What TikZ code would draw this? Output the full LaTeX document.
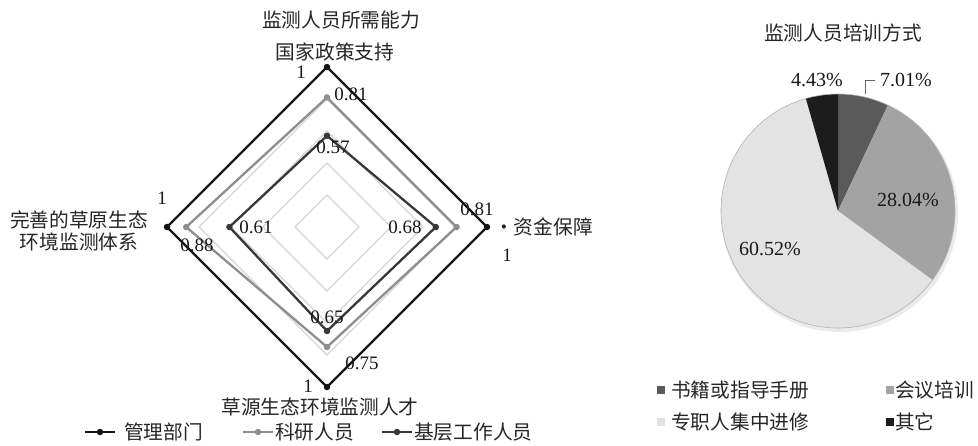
\documentclass[tikz,border=0pt]{standalone}
\usepackage{fontspec}
\setmainfont{Liberation Serif}
\newfontfamily\cjk{Noto Sans CJK SC}
\definecolor{serA}{HTML}{151515}
\definecolor{serB}{HTML}{8E8E8E}
\definecolor{serC}{HTML}{383838}
\definecolor{gridc}{HTML}{D6D6D6}
\definecolor{pieA}{HTML}{5A5A5A}
\definecolor{pieB}{HTML}{A3A3A3}
\definecolor{pieC}{HTML}{E3E3E3}
\definecolor{pieD}{HTML}{1C1C1C}
\tikzset{
  num/.style={font=\fontsize{19}{19}\selectfont, inner sep=0pt, text=black!90},
  pnum/.style={font=\fontsize{20}{20}\selectfont, inner sep=1pt, text=black!90},
  cn/.style={font=\cjk\fontsize{19.7}{22}\selectfont, inner sep=0pt, text=black!85, align=center},
  dotmark/.style={circle, fill=#1, inner sep=0pt, minimum size=6.5pt},
  serline/.style={draw=#1, line width=2.3pt, line join=miter},
  legsq/.style={fill=#1, inner sep=0pt, minimum size=8.5pt},
}
\begin{document}
\begin{tikzpicture}[x=1pt,y=-1pt]
\useasboundingbox (0,0) rectangle (978,445);
\fill[white] (0,0) rectangle (978,445);

% ---------------- radar ----------------
\coordinate (O) at (327,227);
\foreach \r in {32,64,96,128,160}
  \draw[gridc, line width=1.2pt] (327,227-\r) -- (327+\r,227) -- (327,227+\r) -- (327-\r,227) -- cycle;

% series B (科研人员)
\coordinate (b1) at (327,97.4);
\coordinate (b2) at (456.6,227);
\coordinate (b3) at (327,347);
\coordinate (b4) at (186.2,227);
\draw[serline=serB] (b1) -- (b2) -- (b3) -- (b4) -- cycle;
% series C (基层工作人员)
\coordinate (c1) at (327,135.8);
\coordinate (c2) at (435.8,227);
\coordinate (c3) at (327,331);
\coordinate (c4) at (229.4,227);
\draw[serline=serC] (c1) -- (c2) -- (c3) -- (c4) -- cycle;
% series A (管理部门)
\coordinate (a1) at (327,67);
\coordinate (a2) at (487,227);
\coordinate (a3) at (327,387);
\coordinate (a4) at (167,227);
\draw[serline=serA] (a1) -- (a2) -- (a3) -- (a4) -- cycle;

\foreach \p in {a1,a2,a3,a4} \node[dotmark=serA] (m\p) at (\p) {};
\foreach \p in {b1,b2,b3,b4} \node[dotmark=serB] (m\p) at (\p) {};
\foreach \p in {c1,c2,c3,c4} \node[dotmark=serC] (m\p) at (\p) {};

% value labels
\node[num] (va1) at (301,72) {1};
\node[num] (vb1) at (351,94) {0.81};
\node[num] (vc1) at (333,147) {0.57};
\node[num] (vb2) at (477,209) {0.81};
\node[num] (vc2) at (405,227) {0.68};
\node[num] (va2) at (507,255) {1};
\node[num] (vc4) at (256,227) {0.61};
\node[num] (vb4) at (197,245) {0.88};
\node[num] (va4) at (162,198) {1};
\node[num] (vc3) at (327,317) {0.65};
\node[num] (vb3) at (362,363) {0.75};
\node[num] (va3) at (308,386) {1};

% axis labels
\node[cn] (ax1a) at (341,20) {监测人员所需能力};
\node[cn] (ax1b) at (335,52) {国家政策支持};
\node[cn, anchor=west] (ax2) at (494,227) {·资金保障};
\node[cn] (ax4) at (79,231) {完善的草原生态\\环境监测体系};
\node[cn] (ax3) at (320,407) {草源生态环境监测人才};

% legend
\coordinate (lA1) at (85,432);  \coordinate (lA2) at (115,432);
\draw[serA, line width=2.3pt] (lA1) -- (lA2);
\node[dotmark=serA] (lAd) at (100,432) {};
\node[cn, anchor=west] (lAt) at (124,432) {管理部门};
\coordinate (lB1) at (243,432); \coordinate (lB2) at (273,432);
\draw[serB, line width=2.3pt] (lB1) -- (lB2);
\node[dotmark=serB] (lBd) at (258,432) {};
\node[cn, anchor=west] (lBt) at (275,432) {科研人员};
\coordinate (lC1) at (382,432); \coordinate (lC2) at (412,432);
\draw[serC, line width=2.3pt] (lC1) -- (lC2);
\node[dotmark=serC] (lCd) at (397,432) {};
\node[cn, anchor=west] (lCt) at (414,432) {基层工作人员};

% ---------------- pie ----------------
\node[cn] (ptitle) at (843,33) {监测人员培训方式};
\begin{scope}[shift={(838,211)}, y=1pt]
  \fill[black!8] (1.5,-2.5) circle[radius=118.5];
  \fill[pieA] (0,0) -- (90:117) arc[start angle=90, end angle=64.76, radius=117] -- cycle;
  \fill[pieB] (0,0) -- (64.76:117) arc[start angle=64.76, end angle=-36.18, radius=117] -- cycle;
  \fill[pieC] (0,0) -- (-36.18:117) arc[start angle=-36.18, end angle=-254.05, radius=117] -- cycle;
  \fill[pieD] (0,0) -- (105.95:117) arc[start angle=105.95, end angle=90, radius=117] -- cycle;
  \draw[black!30, line width=0.6pt] (0,0) circle[radius=117];
\end{scope}
\node[pnum] (p443) at (817,80) {4.43\%};
\node[pnum] (p701) at (906,80) {7.01\%};
\node[pnum] (p2804) at (908,200) {28.04\%};
\node[pnum] (p6052) at (770,249) {60.52\%};
\coordinate (lead) at (865,94);
\draw[black!60, line width=0.8pt] (lead) |- ([xshift=-4pt]p701.west);

% pie legend
\node[legsq=pieA] (sqA) at (661,390) {};
\node[cn, anchor=west] (tA) at (671,390) {书籍或指导手册};
\node[legsq=pieB] (sqB) at (890,390) {};
\node[cn, anchor=west] (tB) at (895,390) {会议培训};
\node[legsq=pieC] (sqC) at (661,422) {};
\node[cn, anchor=west] (tC) at (671,422) {专职人集中进修};
\node[legsq=pieD] (sqD) at (890,422) {};
\node[cn, anchor=west] (tD) at (895,422) {其它};
\end{tikzpicture}
\end{document}
